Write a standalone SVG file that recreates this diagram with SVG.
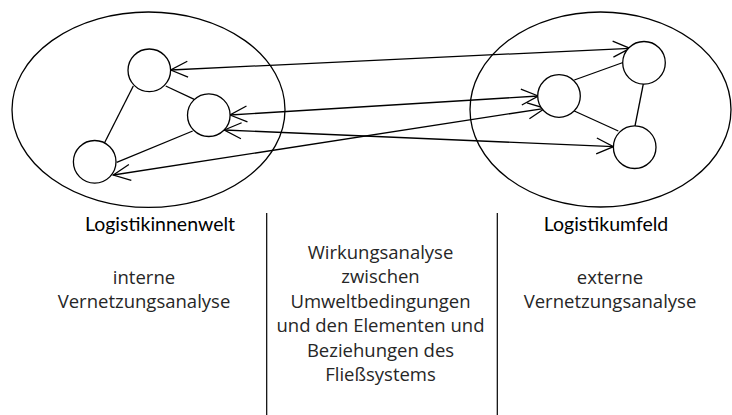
<svg xmlns="http://www.w3.org/2000/svg" width="732" height="415" viewBox="0 0 732 415">
  <style>
    .area { fill: none; stroke: #000; stroke-width: 1.3; }
    .node { fill: #fff; stroke: #000; stroke-width: 1.3; }
    .edge { fill: none; stroke: #000; stroke-width: 1.3; }
    .link { fill: none; stroke: #000; stroke-width: 1.3; marker-start: url(#chev); marker-end: url(#chev); }
    .sep { stroke: #000; stroke-width: 1.2; }
    .head { font-family: Lato, "Liberation Sans", sans-serif; font-size: 19.5px; font-weight: 400; fill: #000; text-anchor: middle; }
    .body { font-family: "Open Sans", "Liberation Sans", sans-serif; font-size: 18.5px; font-weight: 400; fill: #262626; text-anchor: middle; }
  </style>
  <defs>
    <marker id="chev" viewBox="-20 -10 24 20" refX="0" refY="0" markerWidth="24" markerHeight="20" markerUnits="userSpaceOnUse" orient="auto-start-reverse">
      <path d="M-17,-8 L0,0 L-17,8" fill="none" stroke="#000" stroke-width="1.3"/>
    </marker>
  </defs>

  <!-- system boundaries -->
  <g id="innenwelt">
    <ellipse class="area" cx="148.5" cy="109.7" rx="136.5" ry="97.7"/>
  </g>
  <g id="umfeld">
    <ellipse class="area" cx="600.5" cy="109.5" rx="130.5" ry="97.5"/>
  </g>

  <!-- internal relations -->
  <g id="edges">
    <line class="edge" x1="133.3" y1="86" x2="104.3" y2="143.3"/>
    <line class="edge" x1="165.7" y1="86" x2="194.3" y2="99.3"/>
    <line class="edge" x1="192.7" y1="131" x2="116.7" y2="162.3"/>
    <line class="edge" x1="574.3" y1="80" x2="623" y2="62.5"/>
    <line class="edge" x1="574.3" y1="111" x2="618.3" y2="131"/>
    <line class="edge" x1="643.3" y1="84" x2="635" y2="126"/>
  </g>

  <!-- relations between inner world and environment -->
  <g id="connectors">
    <line class="link" x1="170.7" y1="70" x2="630" y2="48.3"/>
    <line class="link" x1="230" y1="115" x2="538.3" y2="96"/>
    <line class="link" x1="224.3" y1="130" x2="613.5" y2="146.7"/>
    <line class="link" x1="113.3" y1="175" x2="545" y2="108.3"/>
  </g>

  <g id="node-a"><circle class="node" cx="149.3" cy="70.3" r="21.3"/></g>
  <g id="node-b"><circle class="node" cx="208.8" cy="115.2" r="21.3"/></g>
  <g id="node-c"><circle class="node" cx="94.7" cy="161.8" r="21.3"/></g>
  <g id="node-d"><circle class="node" cx="559" cy="96" r="21.3"/></g>
  <g id="node-e"><circle class="node" cx="644" cy="62.8" r="21.3"/></g>
  <g id="node-f"><circle class="node" cx="634.7" cy="147.2" r="21.3"/></g>

  <!-- column separators -->
  <g id="separators">
    <line class="sep" x1="266.7" y1="213" x2="266.7" y2="415"/>
    <line class="sep" x1="497.3" y1="213" x2="497.3" y2="415"/>
  </g>

  <g id="label-innenwelt">
    <text class="head" x="160" y="230.5">Logistikinnenwelt</text>
    <text class="body" x="144" y="283.5">interne</text>
    <text class="body" x="144" y="308">Vernetzungsanalyse</text>
  </g>

  <g id="label-wirkung">
    <text class="body" x="380.5" y="258.5">Wirkungsanalyse</text>
    <text class="body" x="380.5" y="283">zwischen</text>
    <text class="body" x="380.5" y="307.5">Umweltbedingungen</text>
    <text class="body" x="380.5" y="332">und den Elementen und</text>
    <text class="body" x="380.5" y="356.5">Beziehungen des</text>
    <text class="body" x="380.5" y="381">Fließsystems</text>
  </g>

  <g id="label-umfeld">
    <text class="head" x="606" y="230.5">Logistikumfeld</text>
    <text class="body" x="610" y="283.5">externe</text>
    <text class="body" x="610" y="308">Vernetzungsanalyse</text>
  </g>
</svg>
